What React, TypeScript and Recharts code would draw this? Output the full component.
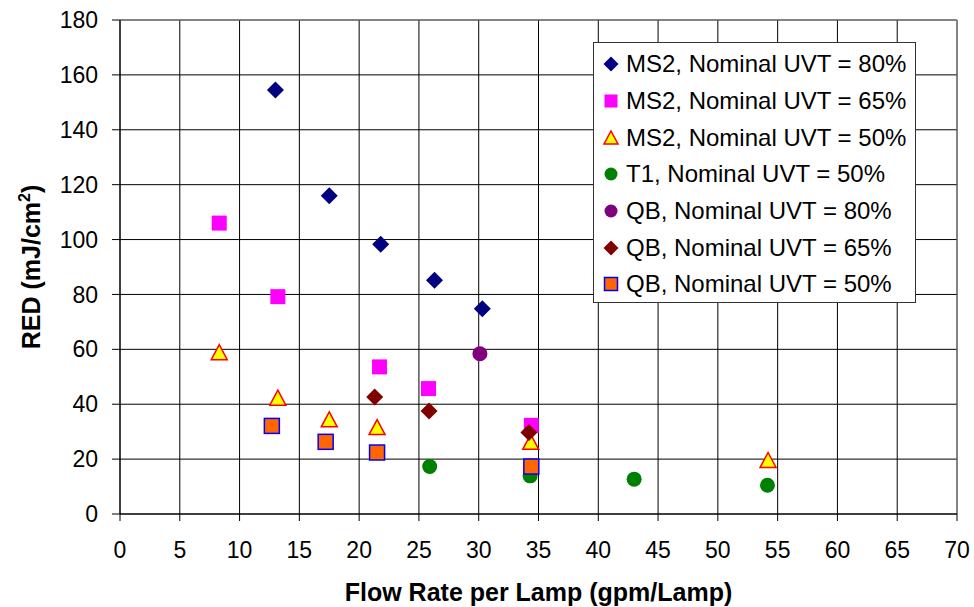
import React from 'react';
import {
  ScatterChart,
  Scatter,
  XAxis,
  YAxis,
  CartesianGrid,
  Legend,
  ReferenceLine,
} from 'recharts';

const FONT = '"Liberation Sans", Arial, sans-serif';

const xTicks = [0, 5, 10, 15, 20, 25, 30, 35, 40, 45, 50, 55, 60, 65, 70];
const yTicks = [0, 20, 40, 60, 80, 100, 120, 140, 160, 180];

// flow rate per lamp (gpm/Lamp) and RED (mJ/cm2) for each series
const ms2Uvt80Flow = [13.0, 17.5, 21.8, 26.3, 30.3];
const ms2Uvt80Red = [154.5, 116, 98.3, 85.2, 74.8];

const ms2Uvt65Flow = [8.3, 13.2, 21.7, 25.8, 34.4];
const ms2Uvt65Red = [106, 79.2, 53.6, 45.7, 32.3];

const ms2Uvt50Flow = [8.3, 13.2, 17.5, 21.5, 34.35, 54.2];
const ms2Uvt50Red = [58.8, 42.2, 34.3, 31.5, 26.1, 19.5];

const t1Uvt50Flow = [25.9, 34.3, 43.0, 54.15];
const t1Uvt50Red = [17.3, 13.9, 12.7, 10.5];

const qbUvt80Flow = [30.1];
const qbUvt80Red = [58.4];

const qbUvt65Flow = [21.3, 25.85, 34.2];
const qbUvt65Red = [42.6, 37.5, 29.7];

const qbUvt50Flow = [12.7, 17.2, 21.5, 34.4];
const qbUvt50Red = [32.1, 26.3, 22.4, 17.3];

type Kind = 'diamond' | 'square' | 'triangle' | 'circle';

const zip = (xs: number[], ys: number[]) => xs.map((x, i) => ({ x, y: ys[i] }));

const series = [
  { name: 'MS2, Nominal UVT = 80%', kind: 'diamond' as Kind, fill: '#000080', stroke: 'none', data: zip(ms2Uvt80Flow, ms2Uvt80Red) },
  { name: 'MS2, Nominal UVT = 65%', kind: 'square' as Kind, fill: '#FF00FF', stroke: 'none', data: zip(ms2Uvt65Flow, ms2Uvt65Red) },
  { name: 'MS2, Nominal UVT = 50%', kind: 'triangle' as Kind, fill: '#FFFF00', stroke: '#FF0000', data: zip(ms2Uvt50Flow, ms2Uvt50Red) },
  { name: 'T1, Nominal UVT = 50%', kind: 'circle' as Kind, fill: '#008000', stroke: 'none', data: zip(t1Uvt50Flow, t1Uvt50Red) },
  { name: 'QB, Nominal UVT = 80%', kind: 'circle' as Kind, fill: '#800080', stroke: 'none', data: zip(qbUvt80Flow, qbUvt80Red) },
  { name: 'QB, Nominal UVT = 65%', kind: 'diamond' as Kind, fill: '#800000', stroke: 'none', data: zip(qbUvt65Flow, qbUvt65Red) },
  { name: 'QB, Nominal UVT = 50%', kind: 'square' as Kind, fill: '#FF6600', stroke: '#0000FF', data: zip(qbUvt50Flow, qbUvt50Red) },
];

function Marker({ kind, cx, cy, fill, stroke, s }: { kind: Kind; cx: number; cy: number; fill: string; stroke: string; s: number }) {
  const h = s / 2;
  const sw = stroke === 'none' ? 0 : 1.5;
  if (kind === 'diamond') {
    return <polygon points={`${cx},${cy - h - 0.5} ${cx + h + 0.5},${cy} ${cx},${cy + h + 0.5} ${cx - h - 0.5},${cy}`} fill={fill} />;
  }
  if (kind === 'square') {
    return <rect x={cx - h + 0.5} y={cy - h + 0.5} width={s - 1} height={s - 1} fill={fill} stroke={stroke} strokeWidth={sw} />;
  }
  if (kind === 'triangle') {
    return <polygon points={`${cx},${cy - h} ${cx + h},${cy + h - 1} ${cx - h},${cy + h - 1}`} fill={fill} stroke={stroke} strokeWidth={sw} strokeLinejoin="miter" />;
  }
  return <circle cx={cx} cy={cy} r={h - 0.5} fill={fill} />;
}

function LegendBox() {
  return (
    <div
      style={{
        width: 323,
        height: 261,
        boxSizing: 'border-box',
        border: '1px solid #333',
        background: '#fff',
        paddingTop: 3,
        fontFamily: FONT,
        fontSize: 24,
        color: '#000',
      }}
    >
      {series.map((s) => (
        <div key={s.name} style={{ height: 36.7, display: 'flex', alignItems: 'center', whiteSpace: 'nowrap' }}>
          <svg width={32} height={20} style={{ flexShrink: 0 }}>
            <Marker kind={s.kind} cx={17} cy={10} fill={s.fill} stroke={s.stroke} s={14} />
          </svg>
          <span>{s.name}</span>
        </div>
      ))}
    </div>
  );
}

const YTitle = (props: any) => {
  const vb = props.viewBox;
  const cy = vb.y + vb.height / 2;
  return (
    <text
      x={40}
      y={cy}
      transform={`rotate(-90, 40, ${cy})`}
      textAnchor="middle"
      fontFamily={FONT}
      fontWeight="bold"
      fontSize={25}
      fill="#000"
    >
      RED (mJ/cm
      <tspan fontSize={16} dy={-10}>2</tspan>
      <tspan dy={10}>)</tspan>
    </text>
  );
};

const XTitle = (props: any) => {
  const vb = props.viewBox;
  return (
    <text
      x={vb.x + vb.width / 2}
      y={vb.y + 87}
      textAnchor="middle"
      fontFamily={FONT}
      fontWeight="bold"
      fontSize={25}
      fill="#000"
    >
      Flow Rate per Lamp (gpm/Lamp)
    </text>
  );
};

export default function App() {
  return (
    <div style={{ position: 'absolute', left: 0, top: 0 }}>
      <ScatterChart width={974} height={607} margin={{ top: 20, right: 17, left: 0, bottom: 0 }}>
        <CartesianGrid stroke="#000" strokeWidth={1} />
        <XAxis
          type="number"
          dataKey="x"
          domain={[0, 70]}
          ticks={xTicks}
          interval={0}
          height={93}
          tickSize={7}
          tickMargin={21}
          stroke="#000"
          tick={{ fontFamily: FONT, fontSize: 23, fill: '#000' }}
          label={<XTitle />}
        />
        <YAxis
          type="number"
          dataKey="y"
          domain={[0, 180]}
          ticks={yTicks}
          interval={0}
          width={120}
          tickSize={8}
          tickMargin={14}
          stroke="#000"
          tick={{ fontFamily: FONT, fontSize: 23, fill: '#000' }}
          label={<YTitle />}
        />
        <ReferenceLine y={180} stroke="#888" />
        <ReferenceLine x={70} stroke="#888" />
        {series.map((s) => (
          <Scatter
            key={s.name}
            name={s.name}
            data={s.data}
            isAnimationActive={false}
            shape={(p: any) => (
              <Marker kind={s.kind} cx={p.cx} cy={p.cy} fill={s.fill} stroke={s.stroke} s={16} />
            )}
          />
        ))}
        <Legend
          layout="vertical"
          align="center"
          verticalAlign="middle"
          content={() => <LegendBox />}
          wrapperStyle={{ position: 'absolute', left: 593, top: 42, width: 323, height: 261 }}
        />
      </ScatterChart>
    </div>
  );
}
